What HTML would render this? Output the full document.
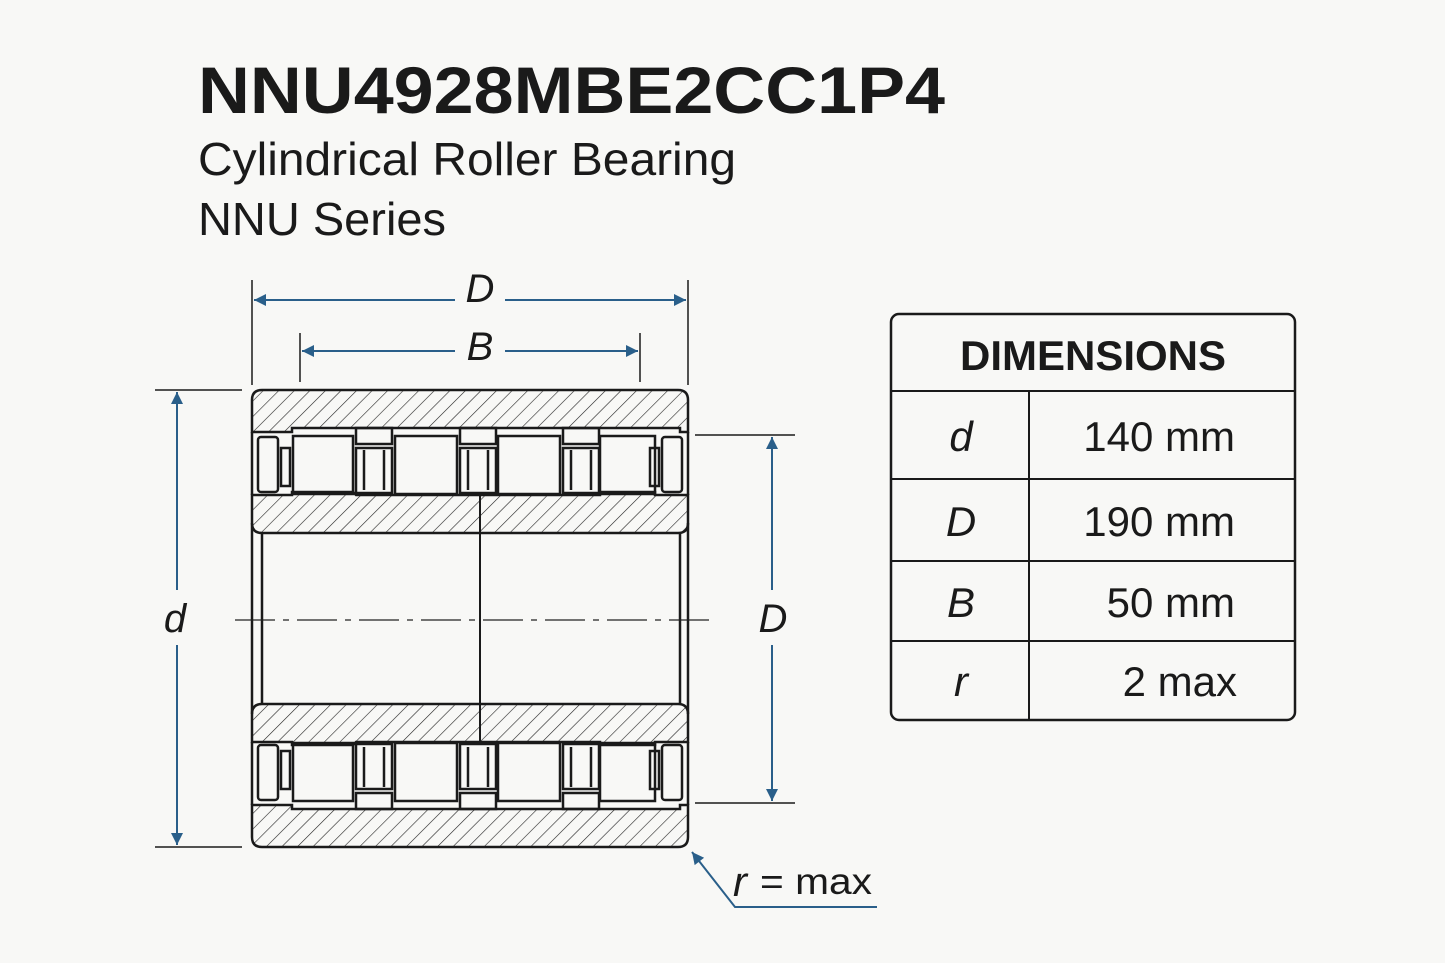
<!DOCTYPE html>
<html><head><meta charset="utf-8"><style>
html,body{margin:0;padding:0;background:#f8f8f6;}
svg{display:block}
text{font-family:"Liberation Sans","DejaVu Sans",sans-serif;fill:#1a1a1a}
</style></head><body>
<svg width="1445" height="963" viewBox="0 0 1445 963" xmlns="http://www.w3.org/2000/svg">
<defs>
<pattern id="h" patternUnits="userSpaceOnUse" width="11" height="11" patternTransform="rotate(45)">
<line x1="0" y1="0" x2="0" y2="11" stroke="#222" stroke-width="1.2"/>
</pattern>
<pattern id="h2" patternUnits="userSpaceOnUse" width="11" height="11" patternTransform="rotate(-45)">
<line x1="0" y1="0" x2="0" y2="11" stroke="#222" stroke-width="1.2"/>
</pattern>
<marker id="a" viewBox="0 0 10 10" refX="10" refY="5" markerWidth="18" markerHeight="12" markerUnits="userSpaceOnUse" orient="auto-start-reverse"><path d="M0,0 L10,5 L0,10 z" fill="#2a5f8a"/></marker>
<g id="half">
<path d="M262,390 H678 Q688,390 688,400 V432 H680 V428 H292 V432 H252 V400 Q252,390 262,390 Z" stroke="#1a1a1a" stroke-width="2.5"/>
<path d="M252,495 H292 V492 H353 L356,495 H393 V495 H457 L460,495 H497 H560 L563,495 H600 V492 H655 V495 H688 V523 Q688,533 678,533 H262 Q252,533 252,523 Z" stroke="#1a1a1a" stroke-width="2.5"/>
<g fill="none" stroke="#1a1a1a" stroke-width="2.5">
<rect x="258" y="437" width="20" height="55" rx="3"/>
<rect x="281" y="448" width="9" height="38"/>
<rect x="662" y="437" width="20" height="55" rx="3"/>
<rect x="650" y="448" width="9" height="38"/>
<rect x="293" y="436" width="60" height="58"/>
<rect x="395" y="436" width="62" height="58"/>
<rect x="498" y="436" width="62" height="58"/>
<rect x="600" y="436" width="55" height="58"/>
<rect x="356" y="428" width="36" height="16"/>
<rect x="460" y="428" width="36" height="16"/>
<rect x="563" y="428" width="36" height="16"/>
<rect x="356" y="448" width="36" height="45"/>
<rect x="460" y="448" width="36" height="45"/>
<rect x="563" y="448" width="36" height="45"/>
<line x1="364" y1="450" x2="364" y2="490"/><line x1="384" y1="450" x2="384" y2="490"/>
<line x1="468" y1="450" x2="468" y2="490"/><line x1="488" y1="450" x2="488" y2="490"/>
<line x1="571" y1="450" x2="571" y2="490"/><line x1="591" y1="450" x2="591" y2="490"/>
<line x1="252" y1="432" x2="252" y2="495"/><line x1="688" y1="432" x2="688" y2="495"/>
</g>
</g>
</defs>
<text x="198" y="113" font-size="66" font-weight="bold" textLength="747" lengthAdjust="spacingAndGlyphs">NNU4928MBE2CC1P4</text>
<text x="198" y="175" font-size="46" textLength="538" lengthAdjust="spacingAndGlyphs">Cylindrical Roller Bearing</text>
<text x="198" y="235" font-size="46" textLength="248" lengthAdjust="spacingAndGlyphs">NNU Series</text>

<use href="#half" fill="url(#h)"/>
<use href="#half" fill="url(#h2)" transform="translate(0,1237) scale(1,-1)"/>
<g stroke="#1a1a1a" stroke-width="2.5">
<line x1="262" y1="533" x2="262" y2="705"/>
<line x1="680" y1="533" x2="680" y2="705"/>
<line x1="252" y1="523" x2="252" y2="714"/>
<line x1="688" y1="523" x2="688" y2="714"/>
<line x1="480" y1="495" x2="480" y2="745" stroke-width="2"/>
</g>
<line x1="235" y1="620" x2="715" y2="620" stroke="#222" stroke-width="1.3" stroke-dasharray="40,8,6,8"/>

<g stroke="#1a1a1a" stroke-width="1.5">
<line x1="252" y1="280" x2="252" y2="385"/><line x1="688" y1="280" x2="688" y2="385"/>
<line x1="300" y1="333" x2="300" y2="382"/><line x1="640" y1="333" x2="640" y2="382"/>
<line x1="155" y1="390" x2="242" y2="390"/><line x1="155" y1="847" x2="242" y2="847"/>
<line x1="695" y1="435" x2="795" y2="435"/><line x1="695" y1="803" x2="795" y2="803"/>
</g>
<g stroke="#2a5f8a" stroke-width="2" fill="none">
<line x1="254" y1="300" x2="455" y2="300" marker-start="url(#a)"/>
<line x1="505" y1="300" x2="686" y2="300" marker-end="url(#a)"/>
<line x1="302" y1="351" x2="455" y2="351" marker-start="url(#a)"/>
<line x1="505" y1="351" x2="638" y2="351" marker-end="url(#a)"/>
<line x1="177" y1="392" x2="177" y2="590" marker-start="url(#a)"/>
<line x1="177" y1="645" x2="177" y2="845" marker-end="url(#a)"/>
<line x1="772" y1="437" x2="772" y2="590" marker-start="url(#a)"/>
<line x1="772" y1="645" x2="772" y2="801" marker-end="url(#a)"/>
<polyline points="877,907 735,907 692,852" marker-end="url(#a)"/>
</g>
<g font-style="italic" font-size="40">
<text x="480" y="302" text-anchor="middle">D</text>
<text x="480" y="360" text-anchor="middle">B</text>
<text x="175" y="632" text-anchor="middle">d</text>
<text x="773" y="632" text-anchor="middle">D</text>
<text x="733" y="896" font-size="42">r</text>
</g>
<text x="760" y="894" font-size="37" textLength="112" lengthAdjust="spacingAndGlyphs">= max</text>

<rect x="891" y="314" width="404" height="406" rx="8" fill="none" stroke="#1a1a1a" stroke-width="2.5"/>
<g stroke="#1a1a1a" stroke-width="2">
<line x1="891" y1="391" x2="1295" y2="391"/>
<line x1="891" y1="479" x2="1295" y2="479"/>
<line x1="891" y1="561" x2="1295" y2="561"/>
<line x1="891" y1="641" x2="1295" y2="641"/>
<line x1="1029" y1="391" x2="1029" y2="720"/>
</g>
<text x="1093" y="370" font-size="42" font-weight="bold" text-anchor="middle">DIMENSIONS</text>
<g font-style="italic" font-size="42" text-anchor="middle">
<text x="961" y="451">d</text>
<text x="961" y="536">D</text>
<text x="961" y="617">B</text>
<text x="961" y="696">r</text>
</g>
<g font-size="42" text-anchor="end">
<text x="1235" y="451">140 mm</text>
<text x="1235" y="536">190 mm</text>
<text x="1235" y="617">50 mm</text>
<text x="1237" y="696">2 max</text>
</g>
</svg>
</body></html>
